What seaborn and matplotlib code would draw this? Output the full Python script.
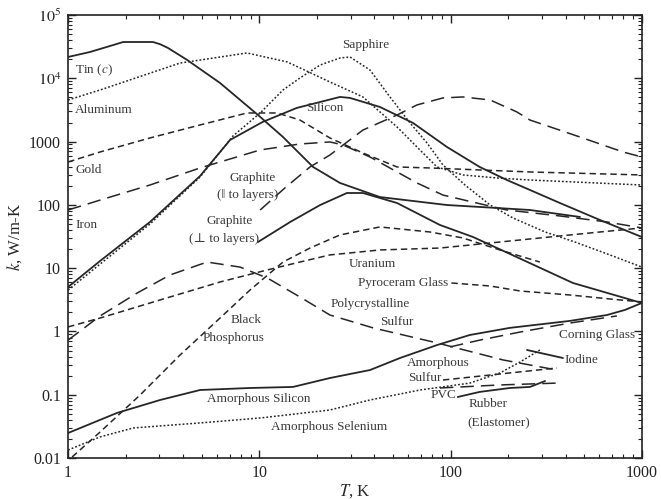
import matplotlib
matplotlib.use("Agg")
import matplotlib.pyplot as plt
import matplotlib.ticker as mticker
import seaborn as sns

# ---- data (T in K, k in W/m-K) ----
tin_T = [1, 1.30, 1.66, 1.94, 2.78, 3.03, 3.33, 4.19, 6.23, 9.84, 13.3, 19.1, 26.4, 42.7, 95.7, 175, 260, 475]
tin_k = [21700, 26000, 32400, 37400, 37400, 34500, 30100, 19500, 8430, 2630, 1180, 397, 222, 133, 99.5, 89.3, 83.0, 64.4]

al_T = [1, 1.47, 3.85, 8.62, 14.0, 23.4, 34.8, 52.5, 66.7, 84.9, 116, 175, 260, 1000]
al_k = [4540, 6530, 17400, 25100, 18100, 8740, 5070, 1700, 822, 397, 297, 266, 247, 206]

gold_T = [1, 1.47, 2.68, 4.90, 8.62, 12.4, 16.3, 23.4, 34.8, 52.5, 78.0, 260, 1000]
gold_k = [476, 685, 1140, 1830, 2830, 2830, 2190, 1140, 660, 397, 383, 331, 297]

iron_T = [1, 1.47, 2.68, 4.90, 10.1, 16.3, 23.4, 27.4, 37.9, 66.7, 91.2, 137, 197, 373, 657, 1000]
iron_k = [83.0, 119, 206, 383, 737, 916, 986, 884, 571, 222, 143, 107, 83.0, 66.8, 53.7, 43.2]

si_T = [1, 1.47, 2.68, 4.90, 7.03, 10.4, 15.7, 26.4, 29.8, 42.7, 63.6, 95.7, 142, 197, 260, 373, 604, 1000]
si_k = [5.05, 13.0, 53.7, 286, 1060, 2040, 3400, 5070, 4890, 3520, 1970, 822, 397, 247, 172, 107, 57.7, 31.1]

sapph_T = [1, 1.47, 2.68, 4.90, 7.29, 10.1, 13.3, 16.3, 20.8, 26.4, 29.8, 37.9, 48.2, 61.4, 75.3,
           91.2, 119, 161, 212, 312, 447, 681, 1000]
sapph_k = [4.52, 11.6, 49.9, 276, 1230, 2830, 6530, 10100, 16200, 20900, 21700, 13500, 5070, 1970, 950,
           427, 206, 99.5, 62.1, 37.3, 25.9, 16.2, 10.4]

gpar_T = [10.1, 13.6, 18.4, 23.4, 34.8, 52.5, 66.7, 91.2, 116, 161, 222, 260, 475, 797, 1000]
gpar_k = [83.0, 185, 397, 614, 1520, 2630, 3790, 4890, 5070, 4540, 2940, 2190, 1180, 685, 571]

gperp_T = [9.84, 14.5, 20.8, 28.7, 34.8, 52.5, 88.0, 131, 239, 436, 1000]
gperp_k = [25.9, 53.7, 99.5, 154, 154, 107, 48.1, 31.1, 13.5, 5.84, 2.82]

ur_T = [1, 1.47, 3.03, 6.23, 11.0, 16.3, 23.4, 42.7, 88.0, 181, 293, 604, 1000]
ur_k = [1.18, 1.63, 3.15, 6.05, 9.37, 12.5, 16.2, 19.4, 20.8, 25.9, 30.0, 37.3, 43.2]

psulf_T = [1, 1.47, 2.30, 3.41, 5.33, 7.93, 11.0, 16.3, 23.4, 39.3, 84.9, 188, 360]
psulf_k = [0.73, 1.76, 4.06, 7.81, 12.5, 10.4, 7.00, 3.51, 1.82, 1.14, 0.66, 0.355, 0.246]

bp_T = [1.05, 1.47, 2.38, 3.85, 6.23, 8.94, 13.3, 18.4, 26.4, 42.7, 78.0, 116, 181, 293]
bp_k = [0.0104, 0.0258, 0.0993, 0.425, 1.63, 4.52, 12.5, 20.8, 33.5, 44.8, 37.3, 30.0, 19.4, 12.5]

pyro_T = [101, 161, 231, 421, 768, 1000]
pyro_k = [5.84, 5.23, 4.36, 3.77, 3.15, 2.93]

corning_T = [99.3, 142, 231, 421, 741]
corning_k = [0.57, 0.73, 0.98, 1.36, 1.76]

asi_T = [1, 1.80, 3.03, 4.90, 8.94, 15.0, 23.4, 37.9, 54.4, 84.9, 126, 204, 421, 657, 816, 1000]
asi_k = [0.0249, 0.0516, 0.0828, 0.119, 0.128, 0.133, 0.184, 0.246, 0.381, 0.61, 0.88, 1.14, 1.47, 1.82, 2.19, 2.82]

ase_T = [1, 1.47, 2.19, 4.90, 10.1, 23.4, 37.9, 69.2, 126, 181, 231, 293]
ase_k = [0.0134, 0.0216, 0.0299, 0.0359, 0.043, 0.0575, 0.0828, 0.119, 0.153, 0.221, 0.330, 0.51]

asulf_T = [91.2, 181, 360]
asulf_k = [0.171, 0.213, 0.265]

pvc_T = [88.0, 181, 360]
pvc_k = [0.128, 0.143, 0.153]

rubber_T = [109, 142, 204, 260, 312]
rubber_k = [0.0923, 0.111, 0.128, 0.133, 0.165]

iodine_T = [251, 387]
iodine_k = [0.51, 0.381]

x_ticks = [1, 10, 100, 1000]
x_ticklabels = ["1", "10", "100", "1000"]
y_ticks = [0.01, 0.1, 1, 10, 100, 1000, 1e4, 1e5]
y_ticklabels = ["0.01", "0.1", "1", "10", "100", "1000", "$10^{4}$", "$10^{5}$"]

# ---- style ----
sns.set_style("ticks")
plt.rcParams["font.family"] = ["Liberation Serif", "DejaVu Serif"]
plt.rcParams["mathtext.fontset"] = "stix"

LC = "#262626"
TC = "#3a3a3a"
SOLID = "-"
DOT = (0, (1.2, 1.3))
DASH = (0, (4.2, 2.6))
LONG = (0, (8.8, 4.6))

curves = [
    (tin_T, tin_k, SOLID), (al_T, al_k, DOT), (gold_T, gold_k, DASH), (iron_T, iron_k, LONG),
    (sapph_T, sapph_k, DOT), (si_T, si_k, SOLID), (gpar_T, gpar_k, LONG), (gperp_T, gperp_k, SOLID),
    (ur_T, ur_k, DASH), (psulf_T, psulf_k, LONG), (bp_T, bp_k, DASH), (pyro_T, pyro_k, DASH),
    (corning_T, corning_k, LONG), (asi_T, asi_k, SOLID), (ase_T, ase_k, DOT),
    (asulf_T, asulf_k, DASH), (pvc_T, pvc_k, LONG), (rubber_T, rubber_k, SOLID),
    (iodine_T, iodine_k, SOLID),
]

fig, ax = plt.subplots(figsize=(6.61, 4.99), dpi=100)
fig.subplots_adjust(left=0.103, right=0.971, top=0.970, bottom=0.082)
ax.set_xscale("log")
ax.set_yscale("log")

for T, k, ls in curves:
    lw = 1.3 if ls == SOLID else 1.1
    sns.lineplot(x=T, y=k, ax=ax, color=LC, linewidth=lw, linestyle=ls, estimator=None, sort=False)

ax.set_xlim(1, 1000)
ax.set_ylim(0.01, 1e5)

ax.xaxis.set_major_locator(mticker.FixedLocator(x_ticks))
ax.xaxis.set_major_formatter(mticker.FixedFormatter(x_ticklabels))
ax.yaxis.set_major_locator(mticker.FixedLocator(y_ticks))
ax.yaxis.set_major_formatter(mticker.FixedFormatter(y_ticklabels))
ax.xaxis.set_minor_locator(mticker.LogLocator(base=10, subs=range(2, 10), numticks=20))
ax.yaxis.set_minor_locator(mticker.LogLocator(base=10, subs=range(2, 10), numticks=20))
ax.xaxis.set_minor_formatter(mticker.NullFormatter())
ax.yaxis.set_minor_formatter(mticker.NullFormatter())
ax.tick_params(which="both", direction="in", top=True, right=True, colors="#222222")
ax.tick_params(which="major", length=6, width=1.0, labelsize=11.5, pad=5)
ax.tick_params(which="minor", length=3, width=0.8)
for s in ax.spines.values():
    s.set_linewidth(1.2)
    s.set_color("#222222")

ax.set_xlabel("$T$, K", fontsize=12, labelpad=1)
ax.set_ylabel("$k$, W/m-K", fontsize=12, labelpad=4)

# ---- curve labels ----
fs = 9.5
def lab(x, y, s, ha="center"):
    ax.text(x, y, s, fontsize=fs, color=TC, ha=ha, va="center")

lab(1.09, 13500, "Tin ($c$)", ha="left")
lab(1.09, 3160, "Aluminum", ha="left")
lab(1.09, 356, "Gold", ha="left")
lab(1.09, 48.1, "Iron", ha="left")
lab(36.1, 33600, "Sapphire")
lab(22.0, 3400, "Silicon")
lab(9.27, 266, "Graphite")
lab(8.74, 143, "(\u2016 to layers)")
lab(7.03, 55.7, "Graphite")
lab(6.54, 28.9, "(\u22a5 to layers)")
lab(38.8, 11.6, "Uranium")
lab(96.9, 5.84, "Pyroceram Glass", ha="right")
lab(37.9, 2.72, "Polycrystalline")
lab(52.5, 1.41, "Sulfur")
lab(8.52, 1.52, "Black")
lab(7.37, 0.79, "Phosphorus")
lab(9.96, 0.086, "Amorphous Silicon")
lab(23.1, 0.031, "Amorphous Selenium")
lab(582, 0.88, "Corning Glass")
lab(396, 0.355, "Iodine", ha="left")
lab(86, 0.318, "Amorphous")
lab(59.9, 0.184, "Sulfur", ha="left")
lab(92.4, 0.0993, "PVC")
lab(157, 0.0716, "Rubber")
lab(179, 0.0372, "(Elastomer)")

fig.savefig("out.png", dpi=100)
